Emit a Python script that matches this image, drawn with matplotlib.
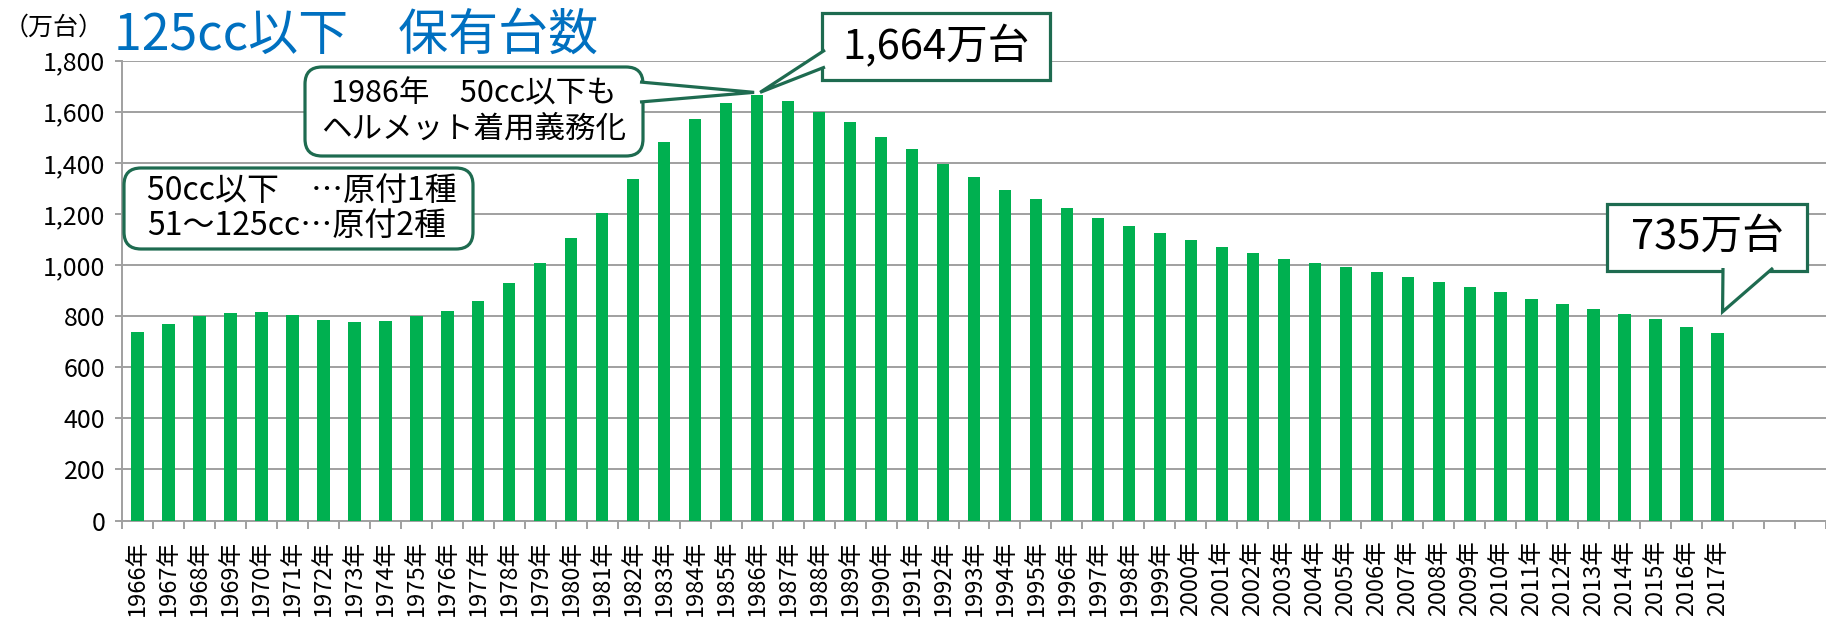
import matplotlib
matplotlib.use('Agg')
import matplotlib.pyplot as plt
from matplotlib.patches import FancyBboxPatch, Polygon
from matplotlib.ticker import FuncFormatter, MultipleLocator

plt.rcParams['font.family'] = ['Noto Sans CJK JP', 'DejaVu Sans']

# data (万台)
years = list(range(1966, 2018))
units = [737, 771, 799, 813, 816, 804, 784, 776, 783, 799,
         820, 858, 928, 1009, 1106, 1205, 1336, 1482, 1573, 1634,
         1664, 1641, 1600, 1559, 1503, 1454, 1397, 1344, 1294, 1258,
         1223, 1185, 1153, 1126, 1097, 1070, 1047, 1024, 1008, 991,
         971, 952, 933, 916, 894, 869, 847, 827, 810, 788,
         759, 735]
extra_slots = 3  # empty categories on the right

title = '125cc以下\u3000保有台数'
unit_label = '（万台）'
peak_note = '1986年\u300050cc以下も\nヘルメット着用義務化'
class_note = '50cc以下\u3000…原付1種\n51～125cc…原付2種'
peak_year = 1986
last_year = 2017

BAR = '#00B050'
GRID = '#A0A0A0'
EDGE = '#1E6B50'
BLUE = '#0070C0'

W, H = 1826, 617
fig = plt.figure(figsize=(W / 100, H / 100), dpi=100)


def fr(x0, y_top, x1, y_bot):
    # pixel box (top-left origin) -> figure fraction rect
    return [x0 / W, 1 - y_bot / H, (x1 - x0) / W, (y_bot - y_top) / H]


def inch(x, y):
    # top-left pixel -> inches from bottom-left
    return x / 100, (H - y) / 100


ax = fig.add_axes(fr(122, 60.6, 1826, 520.6))
n = len(years) + extra_slots
xs = list(range(len(years)))
ax.bar(xs, units, width=0.4, color=BAR, zorder=3)

ax.set_xlim(-0.5, n - 0.5)
ax.set_ylim(0, 1800)
ax.yaxis.set_major_locator(MultipleLocator(200))
ax.yaxis.set_major_formatter(FuncFormatter(lambda v, p: '{:,.0f}'.format(v)))
ax.grid(axis='y', color=GRID, linewidth=1.4, zorder=0)
ax.set_axisbelow(True)

ax.set_xticks(range(n))
ax.set_xticklabels(['{}年'.format(y) for y in years] + [''] * extra_slots,
                   rotation=90, fontsize=17)
ax.set_xticks([i - 0.5 for i in range(n + 1)], minor=True)
ax.tick_params(axis='x', which='major', length=0, pad=14)
ax.tick_params(axis='x', which='minor', length=6, width=1.4, color=GRID)
ax.tick_params(axis='y', length=5, width=1.4, color=GRID, labelsize=18, pad=7)

for s in ['top', 'right']:
    ax.spines[s].set_visible(False)
for s in ['left', 'bottom']:
    ax.spines[s].set_color(GRID)
    ax.spines[s].set_linewidth(1.4)

# titles
fig.text(*inch(114, 50), title, transform=fig.dpi_scale_trans,
         fontsize=36, color=BLUE, va='baseline', ha='left')
fig.text(*inch(4, 28), unit_label, transform=fig.dpi_scale_trans,
         fontsize=18, va='center', ha='left')


def bar_px(year, dx=0, dy=0):
    i = years.index(year)
    px, py = ax.transData.transform((i, units[i]))
    return px + dx, H - py + dy


def callout(box, text, size, rounded, tip=None, base=None,
            align='center', tx=None):
    x0, y0, x1, y1 = box
    style = 'round,pad=0,rounding_size=0.17' if rounded else 'square,pad=0'
    bx, by = inch(x0, y1)
    fig.add_artist(FancyBboxPatch((bx, by), (x1 - x0) / 100, (y1 - y0) / 100,
                                  boxstyle=style, transform=fig.dpi_scale_trans,
                                  facecolor='white', edgecolor=EDGE,
                                  linewidth=2.3, zorder=5))
    if tip is not None:
        pts = [inch(*base[0]), inch(*tip), inch(*base[1])]
        fig.add_artist(Polygon(pts, closed=False,
                               transform=fig.dpi_scale_trans,
                               facecolor='white', edgecolor=EDGE,
                               linewidth=2.3, joinstyle='miter', zorder=6))
    if tx is None:
        tx = (x0 + x1) / 2
    fig.text(*inch(tx, (y0 + y1) / 2), text, transform=fig.dpi_scale_trans,
             fontsize=size, ha=align, va='center', linespacing=1.15, zorder=7)


callout((305, 67, 643, 156), peak_note, 22, True,
        tip=bar_px(peak_year, -3, -3), base=[(640, 82), (640, 102)])
callout((822, 13, 1050, 80),
        '{:,}万台'.format(units[years.index(peak_year)]), 30, False,
        tip=bar_px(peak_year, 3, -3), base=[(825, 50), (825, 67)])
callout((1607, 204, 1807, 271),
        '{}万台'.format(units[years.index(last_year)]), 30, False,
        tip=bar_px(last_year, 5, -21), base=[(1723, 268), (1773, 268)])
callout((124, 168, 473, 249), class_note, 23, True, align='left', tx=147)

fig.savefig('out.png', dpi=100)
